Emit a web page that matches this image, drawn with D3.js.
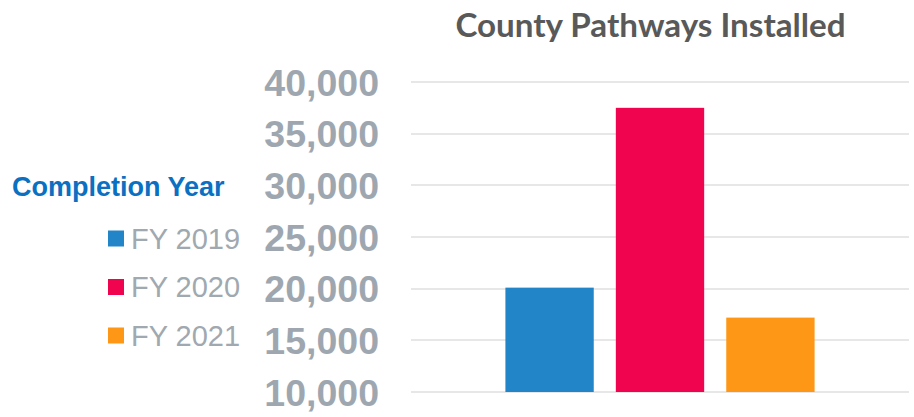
<!DOCTYPE html>
<meta charset="utf-8">
<style>
  body {
    margin: 0;
    background-color: #ffffff;
  }

  .tick-label {
    font: bold 37.5px "Liberation Sans", Arial, sans-serif;
    fill: #9ea7b0;
  }

  .grid line {
    stroke: #e7e7e7;
    stroke-width: 2px;
    shape-rendering: crispEdges;
  }
</style>
<svg width="914" height="417"></svg>
<script src="https://d3js.org/d3.v7.min.js"></script>

<script>
  // chart data
  var seriesNames = ["FY 2019", "FY 2020", "FY 2021"];
  var seriesValues = [20100, 37500, 17200];
  var seriesColours = ["#2285c8", "#f0044f", "#ff9716"];
  var tickValues = [10000, 15000, 20000, 25000, 30000, 35000, 40000];

  var svg = d3.select("svg");
  var plot = { left: 411, right: 909, top: 82, bottom: 392 };

  var y = d3.scaleLinear().domain([10000, 40000]).range([plot.bottom, plot.top]);
  var x = d3.scaleBand()
    .domain(seriesNames)
    .range([plot.left, plot.right])
    .paddingInner(0.2)
    .paddingOuter(0.855);

  // title
  svg.append("text")
    .attr("x", 650.5)
    .attr("y", 37)
    .attr("text-anchor", "middle")
    .style("font", "bold 33.2px Lato, sans-serif")
    .style("fill", "#595959")
    .text("County Pathways Installed");

  // gridlines
  svg.append("g")
    .attr("class", "grid")
    .selectAll("line")
    .data(tickValues)
    .enter().append("line")
    .attr("x1", plot.left)
    .attr("x2", plot.right)
    .attr("y1", function (d) { return Math.round(y(d)); })
    .attr("y2", function (d) { return Math.round(y(d)); });

  // y tick labels
  svg.append("g")
    .selectAll("text")
    .data(tickValues)
    .enter().append("text")
    .attr("class", "tick-label")
    .attr("x", 379)
    .attr("y", function (d) { return y(d); })
    .attr("dy", "0.36em")
    .attr("text-anchor", "end")
    .text(d3.format(","));

  // bars
  svg.selectAll(".bar")
    .data(seriesNames)
    .enter().append("rect")
    .attr("class", "bar")
    .attr("x", function (d) { return x(d); })
    .attr("width", x.bandwidth())
    .attr("y", function (d, i) { return y(seriesValues[i]); })
    .attr("height", function (d, i) { return y(10000) - y(seriesValues[i]); })
    .attr("fill", function (d, i) { return seriesColours[i]; });

  // legend
  svg.append("text")
    .attr("x", 12)
    .attr("y", 196)
    .style("font", "bold 27px 'Liberation Sans', Arial, sans-serif")
    .style("fill", "#0b70c2")
    .text("Completion Year");

  var legend = svg.append("g")
    .selectAll("g")
    .data(seriesNames)
    .enter().append("g")
    .attr("transform", function (d, i) { return "translate(0," + (238.5 + i * 48.5) + ")"; });

  legend.append("rect")
    .attr("x", 108)
    .attr("y", -8)
    .attr("width", 16)
    .attr("height", 16)
    .attr("fill", function (d, i) { return seriesColours[i]; });

  legend.append("text")
    .attr("x", 131)
    .attr("dy", "0.36em")
    .style("font", "29px 'Liberation Sans', Arial, sans-serif")
    .style("fill", "#a0a8b0")
    .text(function (d) { return d; });
</script>
